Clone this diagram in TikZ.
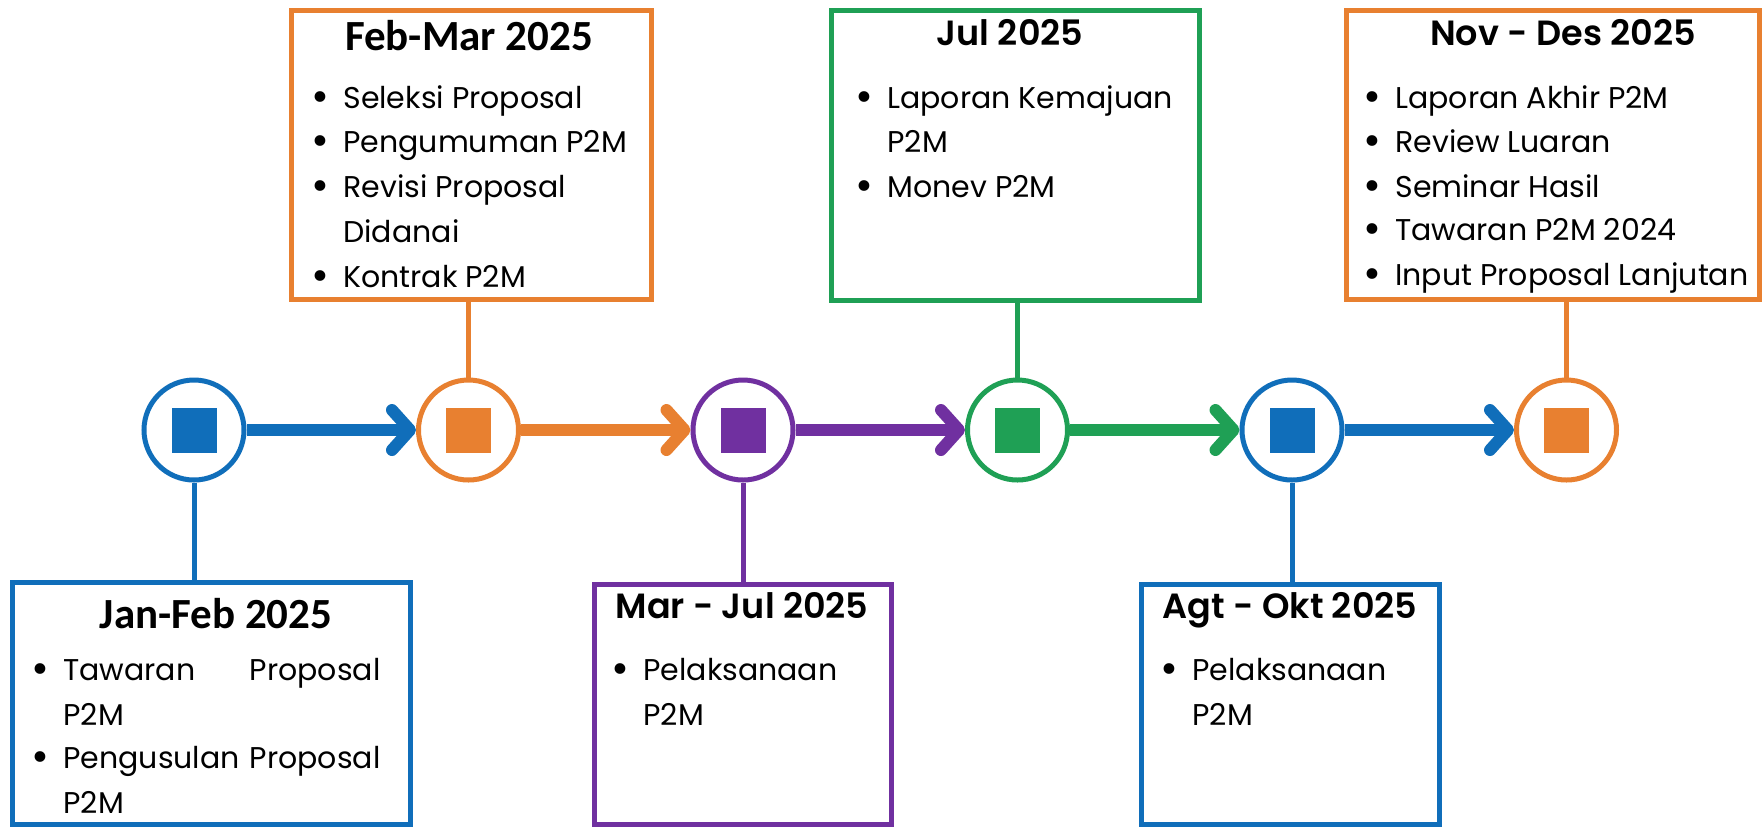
\documentclass[tikz,border=0pt]{standalone}
\usepackage{fontspec}
\usepackage{graphicx}
\setmainfont{Poppins}
\newfontfamily\popsemi{Poppins SemiBold}
\newfontfamily\carlito{Carlito}
\usetikzlibrary{arrows.meta}
\definecolor{cblue}{RGB}{16,110,186}
\definecolor{corange}{RGB}{232,128,48}
\definecolor{cpurple}{RGB}{112,48,160}
\definecolor{cgreen}{RGB}{31,160,85}
\newcommand\bul{\llap{\raisebox{-1.7pt}{\scalebox{1.45}{•}}\hspace{7pt}}}
\begin{document}
\begin{tikzpicture}[x=0.5pt,y=-0.5pt,
  circ/.style={circle, draw=#1, line width=2.5pt, minimum size=50pt, inner sep=0pt, fill=white},
  sq/.style={rectangle, fill=#1, minimum size=22.5pt, inner sep=0pt},
  box/.style={rectangle, draw=#1, line width=2.5pt, inner sep=0pt},
  link/.style={draw=#1, line width=2.5pt},
  arr/.style={draw=#1, line width=6pt, -{Straight Barb[length=9pt,width=20pt,round]}},
  ttl/.style={anchor=base, font=\popsemi\fontsize{17.5}{21}\selectfont, inner sep=0pt},
  ttlc/.style={anchor=base, font=\carlito\bfseries\fontsize{21.5}{26}\selectfont, inner sep=0pt},
  itm/.style={anchor=base west, font=\fontsize{15}{18}\selectfont, inner sep=0pt},
]
\useasboundingbox (0,0) rectangle (1762,827);
\fill[white] (0,0) rectangle (1762,827);

% boxes
\node[box=cblue, minimum width=199pt, minimum height=121pt] (B1) at (211,703) {};
\node[box=corange, minimum width=180pt, minimum height=144.5pt] (B2) at (471,155) {};
\node[box=cpurple, minimum width=148.5pt, minimum height=120pt] (B3) at (742.5,704) {};
\node[box=cgreen, minimum width=184pt, minimum height=145pt] (B4) at (1015,155) {};
\node[box=cblue, minimum width=149pt, minimum height=120pt] (B5) at (1290,704) {};
\node[box=corange, minimum width=206.5pt, minimum height=144.5pt] (B6) at (1552.5,155) {};

% circles
\node[circ=cblue] (C1) at (194,430) {};
\node[circ=corange] (C2) at (468.5,430) {};
\node[circ=cpurple] (C3) at (743,430) {};
\node[circ=cgreen] (C4) at (1017.5,430) {};
\node[circ=cblue] (C5) at (1292,430) {};
\node[circ=corange] (C6) at (1566.5,430) {};
\node[sq=cblue] (S1) at (C1) {};
\node[sq=corange] (S2) at (C2) {};
\node[sq=cpurple] (S3) at (C3) {};
\node[sq=cgreen] (S4) at (C4) {};
\node[sq=cblue] (S5) at (C5) {};
\node[sq=corange] (S6) at (C6) {};

% connectors
\draw[link=cblue] (C1.south) -- (C1.south |- B1.north);
\draw[link=corange] (C2.north) -- (C2.north |- B2.south);
\draw[link=cpurple] (C3.south) -- (C3.south |- B3.north);
\draw[link=cgreen] (C4.north) -- (C4.north |- B4.south);
\draw[link=cblue] (C5.south) -- (C5.south |- B5.north);
\draw[link=corange] (C6.north) -- (C6.north |- B6.south);

% arrows
\draw[arr=cblue] (C1) -- (C2);
\draw[arr=corange] (C2) -- (C3);
\draw[arr=cpurple] (C3) -- (C4);
\draw[arr=cgreen] (C4) -- (C5);
\draw[arr=cblue] (C5) -- (C6);

% box 1
\node[ttlc] (T1) at (216,628) {Jan-Feb 2025};
\node[itm] (I11) at (63,680) {\bul\makebox[158.5pt][l]{Tawaran\hfill Proposal}};
\node[itm] (I12) at (63,725) {P2M};
\node[itm] (I13) at (63,768) {\bul\makebox[158.5pt][l]{Pengusulan\hfill Proposal}};
\node[itm] (I14) at (63,813) {P2M};

% box 2
\node[ttlc] (T2) at (469,50) {Feb-Mar 2025};
\node[itm] (I21) at (343,108) {\bul Seleksi Proposal};
\node[itm] (I22) at (343,152) {\bul Pengumuman P2M};
\node[itm] (I23) at (343,197) {\bul Revisi Proposal};
\node[itm] (I24) at (343,242) {Didanai};
\node[itm] (I25) at (343,287) {\bul Kontrak P2M};

% box 3
\node[ttl] (T3) at (742,618) {Mar - Jul 2025};
\node[itm] (I31) at (643,680) {\bul Pelaksanaan};
\node[itm] (I32) at (643,725) {P2M};

% box 4
\node[ttl] (T4) at (1010,45) {Jul 2025};
\node[itm] (I41) at (887,108) {\bul Laporan Kemajuan};
\node[itm] (I42) at (887,152) {P2M};
\node[itm] (I43) at (887,197) {\bul Monev P2M};

% box 5
\node[ttl] (T5) at (1290,618) {Agt - Okt 2025};
\node[itm] (I51) at (1192,680) {\bul Pelaksanaan};
\node[itm] (I52) at (1192,725) {P2M};

% box 6
\node[ttl] (T6) at (1563,45) {Nov - Des 2025};
\node[itm] (I61) at (1395,108) {\bul Laporan Akhir P2M};
\node[itm] (I62) at (1395,152) {\bul Review Luaran};
\node[itm] (I63) at (1395,197) {\bul Seminar Hasil};
\node[itm] (I64) at (1395,240) {\bul Tawaran P2M 2024};
\node[itm] (I65) at (1395,285) {\bul Input Proposal Lanjutan};
\end{tikzpicture}
\end{document}
